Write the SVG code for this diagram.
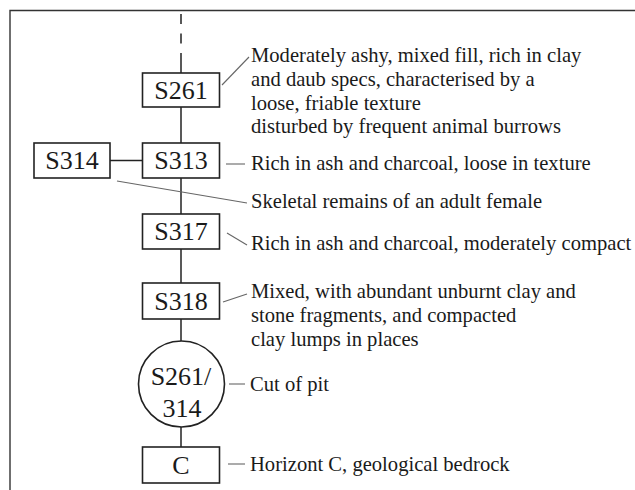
<svg xmlns="http://www.w3.org/2000/svg" width="635" height="490" viewBox="0 0 635 490">
<style>
.frame{fill:none;stroke:#333;stroke-width:1.4}
.box{fill:#fff;stroke:#222;stroke-width:1.6}
.link{stroke:#222;stroke-width:1.5;fill:none}
.lead{stroke:#666;stroke-width:1.1;fill:none}
.nt{font-family:"Liberation Serif","Times New Roman",serif;font-size:26px;fill:#1a1a1a;text-anchor:middle}
.dt{font-family:"Liberation Serif","Times New Roman",serif;font-size:20.6px;fill:#1a1a1a}
</style>
<rect width="635" height="490" fill="#fff"/>
<path class="frame" d="M10,490 V10.5 H635"/>
<g id="connectors">
<line class="link" x1="181" y1="14" x2="181" y2="43.5" stroke-dasharray="10 9.5"/>
<line class="link" x1="181" y1="53" x2="181" y2="73"/>
<line class="link" x1="181" y1="107" x2="181" y2="143"/>
<line class="link" x1="110" y1="160.5" x2="142" y2="160.5"/>
<line class="link" x1="181" y1="178" x2="181" y2="214"/>
<line class="link" x1="181" y1="249" x2="181" y2="283"/>
<line class="link" x1="181" y1="319" x2="181" y2="341"/>
<line class="link" x1="181" y1="427" x2="181" y2="447"/>
<line class="lead" x1="222" y1="85" x2="249" y2="57"/>
<line class="lead" x1="226" y1="164" x2="245" y2="164"/>
<line class="lead" x1="117" y1="181" x2="247" y2="203"/>
<line class="lead" x1="227" y1="233" x2="247" y2="245"/>
<line class="lead" x1="223" y1="302" x2="247" y2="294"/>
<line class="lead" x1="229" y1="384" x2="245" y2="384"/>
<line class="lead" x1="228" y1="464" x2="245" y2="464"/>
</g>
<g id="S261"><rect class="box" x="142.5" y="73" width="77" height="34"/><text class="nt" x="181" y="98.6">S261</text></g>
<g id="S313"><rect class="box" x="142.5" y="143" width="77" height="35"/><text class="nt" x="181" y="169">S313</text></g>
<g id="S314"><rect class="box" x="34" y="143" width="76" height="35"/><text class="nt" x="72" y="169">S314</text></g>
<g id="S317"><rect class="box" x="142.5" y="214" width="77" height="35"/><text class="nt" x="181" y="240">S317</text></g>
<g id="S318"><rect class="box" x="142.5" y="283" width="77" height="36"/><text class="nt" x="181" y="309.5">S318</text></g>
<g id="S261-314"><circle class="box" cx="181.5" cy="384" r="43"/><text class="nt" x="181" y="385">S261/</text><text class="nt" x="182" y="417">314</text></g>
<g id="C"><rect class="box" x="142.5" y="447" width="77" height="36"/><text class="nt" x="181" y="473.5">C</text></g>
<g id="labels">
<text class="dt" x="251" y="62">Moderately ashy, mixed fill, rich in clay</text>
<text class="dt" x="251" y="85.7">and daub specs, characterised by a</text>
<text class="dt" x="251" y="109.5">loose, friable texture</text>
<text class="dt" x="251" y="133">disturbed by frequent animal burrows</text>
<text class="dt" x="251" y="169.5">Rich in ash and charcoal, loose in texture</text>
<text class="dt" x="251" y="207.5">Skeletal remains of an adult female</text>
<text class="dt" x="251" y="250">Rich in ash and charcoal, moderately compact</text>
<text class="dt" x="251" y="298">Mixed, with abundant unburnt clay and</text>
<text class="dt" x="251" y="322">stone fragments, and compacted</text>
<text class="dt" x="251" y="346">clay lumps in places</text>
<text class="dt" x="250" y="391">Cut of pit</text>
<text class="dt" x="250" y="471">Horizont C, geological bedrock</text>
</g>
</svg>
